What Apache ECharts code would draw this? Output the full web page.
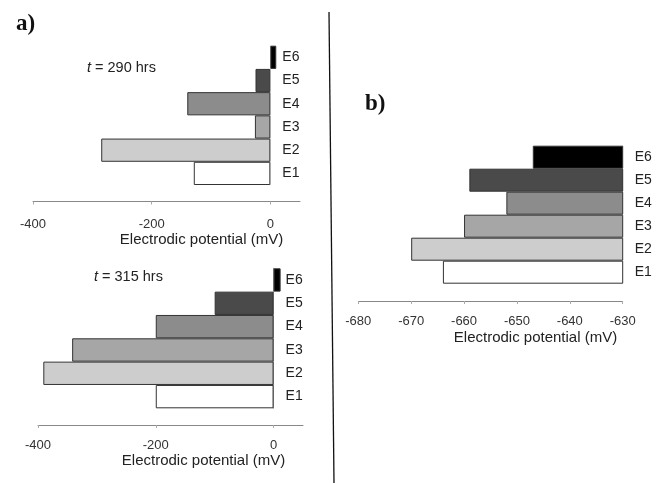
<!DOCTYPE html>
<html>
<head>
<meta charset="utf-8">
<script src="https://cdn.jsdelivr.net/npm/echarts@6/dist/echarts.min.js"></script>
<style>
html, body { margin: 0; padding: 0; background: #fff; }
#chart { width: 667px; height: 483px; }
</style>
</head>
<body>
<div id="chart"></div>
<script>
// electrodes, bottom to top
const electrodes = ['E1', 'E2', 'E3', 'E4', 'E5', 'E6']
// a) potentials at t = 290 hrs and t = 315 hrs (mV)
const potential290 = [-129, -285, -26, -140, -25, 10]
const potential315 = [-200, -391, -342, -200, -100, 12]
// b) potentials (mV)
const potentialB = [-664, -670, -660, -652, -659, -647]

const barColors = ['#ffffff', '#cdcdcd', '#a6a6a6', '#8c8c8c', '#4a4a4a', '#000000']
const font = 'Liberation Sans, Arial, sans-serif'
const serif = 'Liberation Serif, Times New Roman, serif'

const chart = echarts.init(document.getElementById('chart'))

const makeX = (gridIndex, min, max, interval, offset, margin, nameGap, namePad) => ({
	type: 'value',
	gridIndex: gridIndex,
	min: min,
	max: max,
	interval: interval,
	offset: offset,
	name: 'Electrodic potential (mV)',
	nameLocation: 'middle',
	nameGap: nameGap,
	nameTextStyle: { fontFamily: font, fontSize: 15, color: '#222', padding: [0, 0, 0, namePad] },
	axisLine: { show: true, onZero: false, lineStyle: { color: '#888', width: 1 } },
	axisTick: { show: true, length: 3, lineStyle: { color: '#aaa' } },
	axisLabel: { fontFamily: font, fontSize: 13, color: '#333', margin: margin, showMaxLabel: max > 0 ? false : true },
	splitLine: { show: false }
})

// offset moves the left charts' axis from the grid edge back to 0 mV
const makeY = (gridIndex, offset, lineColor) => ({
	type: 'category',
	gridIndex: gridIndex,
	data: electrodes,
	position: 'right',
	offset: offset,
	axisLine: { show: true, onZero: false, lineStyle: { color: lineColor, width: 1 } },
	axisTick: { show: false },
	axisLabel: { fontFamily: font, fontSize: 14, color: '#222', margin: 12 },
	splitLine: { show: false }
})

const makeSeries = (index, values) => ({
	type: 'bar',
	xAxisIndex: index,
	yAxisIndex: index,
	barWidth: '100%',
	barCategoryGap: 0,
	clip: true,
	data: values.map((v, i) => ({
		value: v,
		itemStyle: { color: barColors[i], borderColor: '#333', borderWidth: 1 }
	}))
})

const tText = {
	fontFamily: font, fontSize: 14.5, fontWeight: 'normal', color: '#222',
	rich: { i: { fontFamily: font, fontSize: 14.5, fontStyle: 'italic', color: '#222' } }
}

const option = {
	animation: false,
	backgroundColor: '#fff',
	grid: [
		{ left: 33, top: 45.7, width: 267, height: 139.3 },
		{ left: 38, top: 268.3, width: 265, height: 140 },
		{ left: 358.3, top: 145.7, width: 264.4, height: 138 }
	],
	xAxis: [
		makeX(0, -400, 50, 200, 16.5, 16, 31, 70),
		makeX(1, -400, 50, 200, 16.7, 14, 27, 66),
		makeX(2, -680, -630, 10, 17.3, 14, 29, 90)
	],
	yAxis: [makeY(0, -29.7, '#e4e4e4'), makeY(1, -29.4, '#999'), makeY(2, 0, '#e4e4e4')],
	title: [
		{ text: 'a)', left: 11, top: 8, textStyle: { fontFamily: serif, fontSize: 23, fontWeight: 'bold', color: '#111' } },
		{ text: 'b)', left: 360, top: 88, textStyle: { fontFamily: serif, fontSize: 23, fontWeight: 'bold', color: '#111' } },
		{ text: '{i|t} = 290 hrs', left: 82, top: 55, textStyle: tText },
		{ text: '{i|t} = 315 hrs', left: 89, top: 264, textStyle: tText }
	],
	graphic: [
		{
			type: 'line',
			shape: { x1: 329, y1: 12, x2: 334, y2: 483 },
			style: { stroke: '#111', lineWidth: 1.3 }
		}
	],
	series: [
		makeSeries(0, potential290),
		makeSeries(1, potential315),
		makeSeries(2, potentialB)
	]
}

chart.setOption(option)
</script>
</body>
</html>
